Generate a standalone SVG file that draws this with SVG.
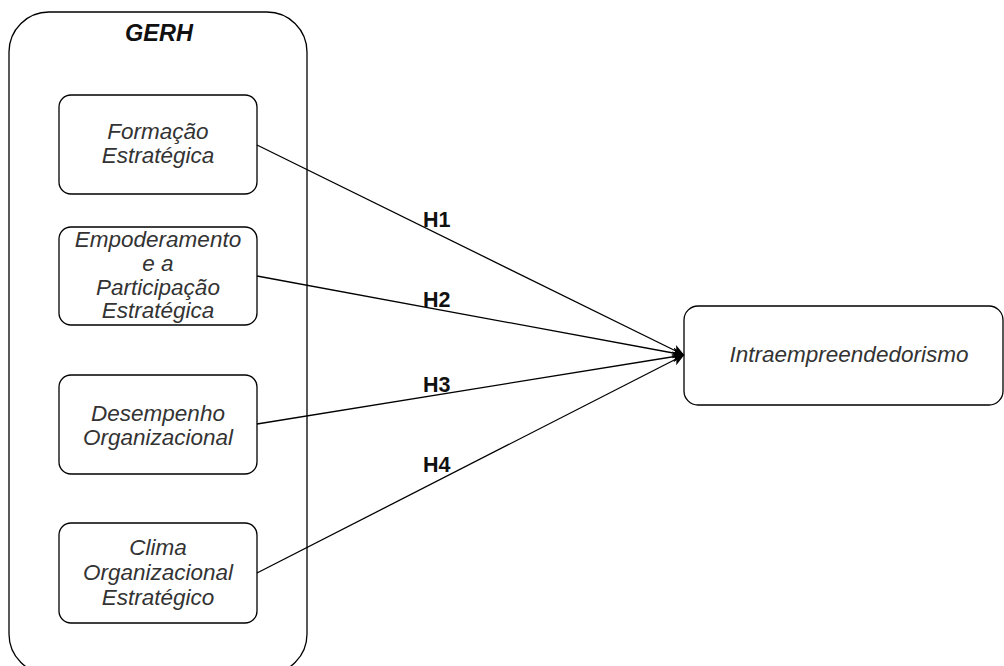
<svg xmlns="http://www.w3.org/2000/svg" width="1004" height="666" viewBox="0 0 1004 666">
<style>
.box{fill:#fff;stroke:#000;stroke-width:1.3}
.t{font-family:"Liberation Sans",Arial,sans-serif;font-size:22.5px;font-style:italic;fill:#333;text-anchor:middle}
.b{font-family:"Liberation Sans",Arial,sans-serif;font-weight:bold;fill:#111}
.conn{stroke:#000;stroke-width:1.3;fill:none}
</style>
<defs>
<marker id="arr" viewBox="0 0 12 12" refX="11.5" refY="6" markerWidth="12" markerHeight="12" markerUnits="userSpaceOnUse" orient="auto">
<path d="M0,0.5 L12,6 L0,11.5 L3,6 Z" fill="#000"/>
</marker>
</defs>
<rect width="1004" height="666" fill="#fff"/>
<g id="gerh">
<rect class="box" x="9" y="12" width="298" height="662" rx="40" ry="40"/>
<text class="b" x="159" y="41" font-size="23.5" font-style="italic" text-anchor="middle">GERH</text>
</g>
<g id="formacao">
<rect class="box" x="59" y="95" width="198" height="99" rx="12" ry="12"/>
<text class="t" x="158" y="139">Formação</text>
<text class="t" x="158" y="163">Estratégica</text>
</g>
<g id="empoderamento">
<rect class="box" x="59" y="227" width="198" height="98" rx="12" ry="12"/>
<text class="t" x="158" y="247">Empoderamento</text>
<text class="t" x="158" y="271">e a</text>
<text class="t" x="158" y="295">Participação</text>
<text class="t" x="158" y="318">Estratégica</text>
</g>
<g id="desempenho">
<rect class="box" x="59" y="375" width="198" height="99" rx="12" ry="12"/>
<text class="t" x="158" y="421">Desempenho</text>
<text class="t" x="158" y="445">Organizacional</text>
</g>
<g id="clima">
<rect class="box" x="59" y="523" width="198" height="100" rx="12" ry="12"/>
<text class="t" x="158" y="555">Clima</text>
<text class="t" x="158" y="580">Organizacional</text>
<text class="t" x="158" y="605">Estratégico</text>
</g>
<g id="intra">
<rect class="box" x="684" y="306" width="319" height="99" rx="14" ry="14"/>
<text class="t" x="849" y="362">Intraempreendedorismo</text>
</g>
<g id="connectors">
<line class="conn" x1="257" y1="145" x2="684" y2="355" marker-end="url(#arr)"/>
<line class="conn" x1="257" y1="276" x2="684" y2="355" marker-end="url(#arr)"/>
<line class="conn" x1="257" y1="424" x2="684" y2="355" marker-end="url(#arr)"/>
<line class="conn" x1="257" y1="573" x2="684" y2="355" marker-end="url(#arr)"/>
<text class="b" x="423" y="227" font-size="21.5">H1</text>
<text class="b" x="423" y="307" font-size="21.5">H2</text>
<text class="b" x="423" y="392" font-size="21.5">H3</text>
<text class="b" x="423" y="472" font-size="21.5">H4</text>
</g>
</svg>
